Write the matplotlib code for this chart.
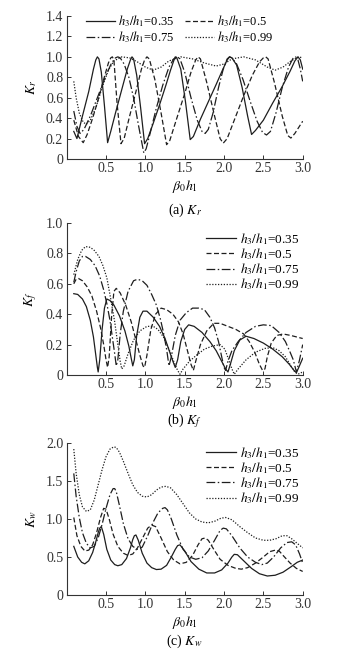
import matplotlib
matplotlib.use("Agg")
import matplotlib.pyplot as plt

plt.rcParams['font.family'] = ['Liberation Serif', 'DejaVu Serif']
plt.rcParams['mathtext.fontset'] = 'stix'
plt.rcParams['font.size'] = 9.5

# (a) Kr
kr_x_035 = [0.09, 0.13, 0.2, 0.28, 0.34, 0.37, 0.39, 0.41, 0.44, 0.48, 0.52, 0.56, 0.62, 0.7, 0.77, 0.81, 0.83, 0.85, 0.89, 0.94, 0.99, 1.03, 1.1, 1.18, 1.26, 1.32, 1.36, 1.38, 1.4, 1.45, 1.51, 1.57, 1.61, 1.7, 1.8, 1.9, 1.98, 2.04, 2.07, 2.1, 2.16, 2.23, 2.3, 2.35, 2.4, 2.5, 2.62, 2.74, 2.84, 2.9, 2.94, 2.97, 3.0]
kr_y_035 = [0.27, 0.2, 0.42, 0.66, 0.88, 0.97, 1.0, 0.98, 0.85, 0.52, 0.16, 0.27, 0.45, 0.68, 0.88, 0.97, 1.0, 0.98, 0.82, 0.5, 0.15, 0.2, 0.35, 0.53, 0.72, 0.87, 0.96, 1.0, 0.99, 0.88, 0.56, 0.19, 0.22, 0.39, 0.56, 0.73, 0.87, 0.97, 1.0, 0.99, 0.92, 0.7, 0.42, 0.24, 0.28, 0.38, 0.55, 0.71, 0.86, 0.96, 1.0, 0.97, 0.88]
kr_x_05 = [0.09, 0.15, 0.21, 0.26, 0.33, 0.4, 0.47, 0.53, 0.56, 0.58, 0.6, 0.64, 0.69, 0.73, 0.8, 0.88, 0.95, 0.99, 1.02, 1.05, 1.12, 1.2, 1.27, 1.31, 1.4, 1.5, 1.58, 1.64, 1.67, 1.7, 1.78, 1.88, 1.95, 1.99, 2.04, 2.14, 2.25, 2.36, 2.45, 2.5, 2.53, 2.56, 2.64, 2.74, 2.81, 2.85, 2.9, 2.95, 3.0]
kr_y_05 = [0.38, 0.22, 0.16, 0.24, 0.4, 0.58, 0.78, 0.94, 0.99, 1.0, 0.97, 0.55, 0.15, 0.2, 0.42, 0.66, 0.88, 0.97, 1.0, 0.98, 0.78, 0.45, 0.14, 0.18, 0.4, 0.64, 0.85, 0.97, 1.0, 0.98, 0.75, 0.42, 0.2, 0.155, 0.2, 0.4, 0.62, 0.82, 0.95, 0.99, 1.0, 0.98, 0.75, 0.42, 0.23, 0.205, 0.25, 0.31, 0.37]
kr_x_075 = [0.09, 0.13, 0.17, 0.22, 0.3, 0.4, 0.5, 0.57, 0.62, 0.65, 0.68, 0.73, 0.79, 0.85, 0.91, 0.95, 0.98, 1.01, 1.06, 1.14, 1.22, 1.3, 1.36, 1.4, 1.44, 1.5, 1.58, 1.66, 1.72, 1.76, 1.8, 1.86, 1.93, 1.99, 2.04, 2.07, 2.1, 2.16, 2.24, 2.33, 2.42, 2.49, 2.54, 2.59, 2.66, 2.74, 2.82, 2.88, 2.91, 2.94, 2.97, 3.0]
kr_y_075 = [0.47, 0.32, 0.25, 0.29, 0.42, 0.62, 0.82, 0.94, 0.99, 1.0, 0.99, 0.93, 0.8, 0.6, 0.34, 0.18, 0.06, 0.1, 0.25, 0.5, 0.72, 0.9, 0.98, 1.0, 0.98, 0.85, 0.6, 0.38, 0.27, 0.25, 0.29, 0.45, 0.7, 0.88, 0.98, 1.0, 0.99, 0.93, 0.78, 0.57, 0.37, 0.26, 0.235, 0.27, 0.45, 0.7, 0.9, 0.99, 1.0, 0.97, 0.88, 0.76]
kr_x_099 = [0.09, 0.12, 0.16, 0.21, 0.25, 0.3, 0.37, 0.45, 0.53, 0.6, 0.7, 0.8, 0.9, 1.0, 1.1, 1.2, 1.3, 1.45, 1.6, 1.75, 1.9, 2.0, 2.1, 2.25, 2.4, 2.55, 2.65, 2.75, 2.85, 2.95, 3.0]
kr_y_099 = [0.76, 0.6, 0.45, 0.36, 0.34, 0.38, 0.5, 0.7, 0.87, 0.96, 1.0, 0.99, 0.95, 0.9, 0.87, 0.9, 0.96, 1.0, 0.98, 0.94, 0.91, 0.93, 0.98, 1.0, 0.97, 0.9, 0.87, 0.9, 0.96, 1.0, 0.99]

# (b) Kf
kf_x_035 = [0.09, 0.14, 0.2, 0.25, 0.3, 0.34, 0.37, 0.39, 0.4, 0.42, 0.45, 0.48, 0.51, 0.55, 0.6, 0.67, 0.74, 0.79, 0.82, 0.84, 0.86, 0.89, 0.93, 0.97, 1.02, 1.1, 1.18, 1.25, 1.31, 1.35, 1.38, 1.41, 1.45, 1.5, 1.55, 1.62, 1.72, 1.82, 1.9, 1.97, 2.02, 2.05, 2.08, 2.13, 2.2, 2.28, 2.38, 2.5, 2.62, 2.74, 2.83, 2.89, 2.92, 2.95, 3.0]
kf_y_035 = [0.535, 0.53, 0.5, 0.45, 0.36, 0.25, 0.13, 0.05, 0.02, 0.1, 0.3, 0.44, 0.5, 0.49, 0.46, 0.39, 0.29, 0.19, 0.11, 0.06, 0.1, 0.26, 0.38, 0.42, 0.42, 0.38, 0.32, 0.24, 0.15, 0.09, 0.05, 0.1, 0.22, 0.3, 0.33, 0.32, 0.28, 0.22, 0.16, 0.09, 0.04, 0.02, 0.07, 0.16, 0.23, 0.255, 0.24, 0.21, 0.17, 0.12, 0.07, 0.03, 0.015, 0.05, 0.11]
kf_x_05 = [0.09, 0.12, 0.15, 0.2, 0.26, 0.32, 0.38, 0.43, 0.47, 0.5, 0.52, 0.54, 0.57, 0.6, 0.63, 0.68, 0.75, 0.82, 0.88, 0.93, 0.97, 0.99, 1.02, 1.07, 1.13, 1.2, 1.27, 1.35, 1.42, 1.48, 1.53, 1.58, 1.61, 1.64, 1.7, 1.78, 1.87, 1.95, 2.05, 2.15, 2.25, 2.32, 2.39, 2.45, 2.49, 2.52, 2.55, 2.6, 2.67, 2.75, 2.85, 3.0]
kf_y_05 = [0.6, 0.63, 0.635, 0.62, 0.58, 0.52, 0.42, 0.31, 0.2, 0.1, 0.05, 0.12, 0.38, 0.55, 0.57, 0.54, 0.46, 0.35, 0.23, 0.13, 0.06, 0.05, 0.13, 0.3, 0.4, 0.44, 0.43, 0.4, 0.35, 0.27, 0.17, 0.07, 0.03, 0.09, 0.2, 0.29, 0.34, 0.34, 0.32, 0.3, 0.27, 0.22, 0.15, 0.07, 0.03, 0.04, 0.12, 0.21, 0.26, 0.27, 0.26, 0.24]
kf_x_075 = [0.09, 0.12, 0.16, 0.2, 0.24, 0.3, 0.36, 0.42, 0.47, 0.51, 0.55, 0.58, 0.61, 0.63, 0.65, 0.68, 0.72, 0.78, 0.85, 0.9, 0.96, 1.02, 1.08, 1.14, 1.19, 1.23, 1.27, 1.3, 1.33, 1.38, 1.44, 1.52, 1.6, 1.68, 1.75, 1.82, 1.88, 1.93, 1.97, 2.0, 2.02, 2.05, 2.1, 2.18, 2.28, 2.4, 2.5, 2.6, 2.7, 2.78, 2.84, 2.88, 2.92, 2.96, 3.0]
kf_y_075 = [0.61, 0.68, 0.75, 0.78, 0.78, 0.76, 0.72, 0.65, 0.56, 0.47, 0.36, 0.25, 0.14, 0.06, 0.1, 0.27, 0.42, 0.55, 0.62, 0.63, 0.62, 0.59, 0.53, 0.46, 0.37, 0.28, 0.17, 0.06, 0.12, 0.26, 0.36, 0.41, 0.44, 0.44, 0.43, 0.38, 0.31, 0.22, 0.12, 0.05, 0.03, 0.09, 0.16, 0.22, 0.28, 0.32, 0.33, 0.325, 0.28, 0.22, 0.15, 0.1, 0.02, 0.1, 0.2]
kf_x_099 = [0.09, 0.14, 0.19, 0.24, 0.3, 0.35, 0.41, 0.46, 0.51, 0.56, 0.61, 0.65, 0.68, 0.7, 0.73, 0.78, 0.85, 0.93, 1.02, 1.1, 1.16, 1.23, 1.3, 1.36, 1.41, 1.44, 1.48, 1.56, 1.65, 1.75, 1.85, 1.95, 2.01, 2.06, 2.1, 2.13, 2.18, 2.28, 2.4, 2.52, 2.62, 2.7, 2.78, 2.85, 2.9, 2.94, 3.0]
kf_y_099 = [0.66, 0.76, 0.82, 0.845, 0.84, 0.82, 0.78, 0.72, 0.64, 0.5, 0.35, 0.2, 0.09, 0.04, 0.06, 0.14, 0.23, 0.29, 0.32, 0.32, 0.3, 0.25, 0.17, 0.09, 0.03, 0.005, 0.04, 0.09, 0.13, 0.17, 0.19, 0.2, 0.17, 0.1, 0.04, 0.005, 0.04, 0.1, 0.15, 0.175, 0.18, 0.16, 0.12, 0.06, 0.02, 0.005, 0.02]

# (c) Kw
kw_x_035 = [0.09, 0.14, 0.19, 0.23, 0.28, 0.33, 0.37, 0.4, 0.42, 0.44, 0.47, 0.51, 0.56, 0.61, 0.65, 0.7, 0.76, 0.81, 0.84, 0.86, 0.88, 0.91, 0.96, 1.02, 1.08, 1.14, 1.2, 1.27, 1.33, 1.38, 1.41, 1.44, 1.5, 1.58, 1.68, 1.78, 1.88, 1.97, 2.05, 2.1, 2.13, 2.17, 2.25, 2.35, 2.45, 2.55, 2.65, 2.75, 2.85, 2.93, 3.0]
kw_y_035 = [0.64, 0.5, 0.43, 0.41, 0.45, 0.56, 0.7, 0.82, 0.88, 0.9, 0.8, 0.6, 0.46, 0.4, 0.385, 0.4, 0.48, 0.62, 0.73, 0.78, 0.79, 0.72, 0.55, 0.42, 0.36, 0.335, 0.34, 0.39, 0.5, 0.6, 0.65, 0.66, 0.58, 0.44, 0.34, 0.29, 0.29, 0.33, 0.42, 0.5, 0.535, 0.53, 0.45, 0.35, 0.28, 0.25, 0.26, 0.3, 0.37, 0.43, 0.46]
kw_x_05 = [0.09, 0.13, 0.18, 0.23, 0.28, 0.33, 0.38, 0.43, 0.47, 0.5, 0.54, 0.59, 0.65, 0.72, 0.78, 0.84, 0.9, 0.97, 1.03, 1.08, 1.13, 1.2, 1.28, 1.36, 1.44, 1.52, 1.6, 1.67, 1.72, 1.76, 1.8, 1.87, 1.95, 2.05, 2.15, 2.22, 2.3, 2.4, 2.5, 2.58, 2.65, 2.7, 2.76, 2.84, 2.92, 3.0]
kw_y_05 = [1.02, 0.78, 0.64, 0.58, 0.59, 0.66, 0.82, 1.02, 1.14, 1.13, 1.0, 0.8, 0.64, 0.55, 0.52, 0.54, 0.62, 0.76, 0.88, 0.92, 0.9, 0.75, 0.57, 0.46, 0.41, 0.43, 0.52, 0.66, 0.74, 0.75, 0.72, 0.6, 0.47, 0.39, 0.35, 0.34, 0.36, 0.42, 0.5, 0.57, 0.59, 0.58, 0.51, 0.42, 0.35, 0.31]
kw_x_075 = [0.09, 0.12, 0.16, 0.2, 0.25, 0.3, 0.35, 0.4, 0.45, 0.5, 0.55, 0.59, 0.61, 0.63, 0.67, 0.72, 0.78, 0.84, 0.9, 0.96, 1.03, 1.1, 1.16, 1.22, 1.25, 1.28, 1.33, 1.4, 1.48, 1.56, 1.64, 1.72, 1.8, 1.88, 1.95, 1.99, 2.03, 2.1, 2.2, 2.3, 2.4, 2.48, 2.55, 2.63, 2.72, 2.8, 2.86, 2.91, 2.96, 3.0]
kw_y_075 = [1.6, 1.3, 1.02, 0.82, 0.68, 0.62, 0.64, 0.75, 0.93, 1.14, 1.32, 1.4, 1.4, 1.36, 1.18, 0.94, 0.74, 0.64, 0.6, 0.63, 0.78, 0.96, 1.08, 1.14, 1.15, 1.12, 1.0, 0.79, 0.6, 0.5, 0.47, 0.49, 0.58, 0.72, 0.85, 0.88, 0.87, 0.78, 0.62, 0.5, 0.43, 0.4, 0.42, 0.5, 0.62, 0.69, 0.7, 0.66, 0.54, 0.42]
kw_x_099 = [0.09, 0.12, 0.16, 0.2, 0.25, 0.3, 0.35, 0.4, 0.45, 0.5, 0.55, 0.6, 0.63, 0.67, 0.72, 0.78, 0.84, 0.9, 0.96, 1.02, 1.08, 1.14, 1.2, 1.26, 1.32, 1.4, 1.48, 1.56, 1.64, 1.72, 1.8, 1.88, 1.96, 2.02, 2.1, 2.2, 2.3, 2.4, 2.5, 2.58, 2.66, 2.74, 2.8, 2.86, 2.93, 3.0]
kw_y_099 = [1.92, 1.6, 1.32, 1.16, 1.1, 1.12, 1.25, 1.45, 1.65, 1.82, 1.92, 1.95, 1.94, 1.88, 1.76, 1.6, 1.45, 1.35, 1.3, 1.29, 1.32, 1.38, 1.42, 1.43, 1.41, 1.32, 1.2, 1.08, 1.0, 0.96, 0.95, 0.97, 1.01, 1.02, 0.99, 0.9, 0.82, 0.75, 0.72, 0.72, 0.74, 0.78, 0.78, 0.74, 0.68, 0.62]

labels = [r'$h_3/h_1$=0.35', r'$h_3/h_1$=0.5', r'$h_3/h_1$=0.75', r'$h_3/h_1$=0.99']
styles = ['-', (0, (4, 2)), (0, (7, 2, 1.2, 2)), (0, (1, 1.3))]
color = '#1e1e1e'

W, H = 339, 657
fig = plt.figure(figsize=(W / 100, H / 100), dpi=100)

def make_axes(bottom_px, top_px):
    return fig.add_axes([66.7 / W, 1 - bottom_px / H, 236 / W, (bottom_px - top_px) / H])

def style_axes(ax, ymax, yticks, yticklabels, ylabel, caption, caption_px):
    ax.set_xlim(0, 3.0)
    ax.set_ylim(0, ymax)
    ax.set_xticks([0.5, 1.0, 1.5, 2.0, 2.5, 3.0])
    ax.set_xticklabels(['0.5', '1.0', '1.5', '2.0', '2.5', '3.0'])
    ax.set_yticks(yticks)
    ax.set_yticklabels(yticklabels)
    ax.spines['top'].set_visible(False)
    ax.spines['right'].set_visible(False)
    for s in ['left', 'bottom']:
        ax.spines[s].set_linewidth(0.8)
        ax.spines[s].set_color('#333333')
    ax.tick_params(direction='in', length=3, width=0.7, pad=2.5, labelsize=10, colors='#333333')
    ax.set_xlabel(r'$\beta_0 h_1$', fontsize=10, labelpad=2)
    ax.set_ylabel(ylabel, fontsize=10, labelpad=5)
    fig.text(184.7 / W, 1 - caption_px / H, caption, ha='center', va='center', fontsize=10)

def draw(ax, xs, ys):
    lines = []
    for x, y, ls, lab in zip(xs, ys, styles, labels):
        l, = ax.plot(x, y, linestyle=ls, color=color, lw=0.9, label=lab)
        lines.append(l)
    return lines

leg_kw = dict(frameon=False, fontsize=9.5, handlelength=2.3, handletextpad=0.3,
              labelspacing=-0.05, borderpad=0.1)

# panel (a)
ax1 = make_axes(159, 16)
la = draw(ax1, [kr_x_035, kr_x_05, kr_x_075, kr_x_099], [kr_y_035, kr_y_05, kr_y_075, kr_y_099])
style_axes(ax1, 1.4, [0, 0.2, 0.4, 0.6, 0.8, 1.0, 1.2, 1.4],
           ['0', '0.2', '0.4', '0.6', '0.8', '1.0', '1.2', '1.4'], r'$K_r$', r'(a) $K_r$', 210)
ax1.legend([la[0], la[2], la[1], la[3]], [labels[0], labels[2], labels[1], labels[3]],
           ncol=2, loc='upper left', bbox_to_anchor=(0.05, 1.07), columnspacing=0.8,
           **dict(leg_kw, fontsize=9, labelspacing=0.0))

# panel (b)
ax2 = make_axes(375, 223)
lb = draw(ax2, [kf_x_035, kf_x_05, kf_x_075, kf_x_099], [kf_y_035, kf_y_05, kf_y_075, kf_y_099])
style_axes(ax2, 1.0, [0, 0.2, 0.4, 0.6, 0.8, 1.0],
           ['0', '0.2', '0.4', '0.6', '0.8', '1.0'], r'$K_f$', r'(b) $K_f$', 421)
ax2.legend(loc='upper right', bbox_to_anchor=(1.02, 1.0), **leg_kw)

# panel (c)
ax3 = make_axes(595, 443)
lc = draw(ax3, [kw_x_035, kw_x_05, kw_x_075, kw_x_099], [kw_y_035, kw_y_05, kw_y_075, kw_y_099])
style_axes(ax3, 2.0, [0, 0.5, 1.0, 1.5, 2.0],
           ['0', '0.5', '1.0', '1.5', '2.0'], r'$K_w$', r'(c) $K_w$', 641)
ax3.legend(loc='upper right', bbox_to_anchor=(1.02, 1.04), **leg_kw)

fig.savefig('out.png', dpi=100)
